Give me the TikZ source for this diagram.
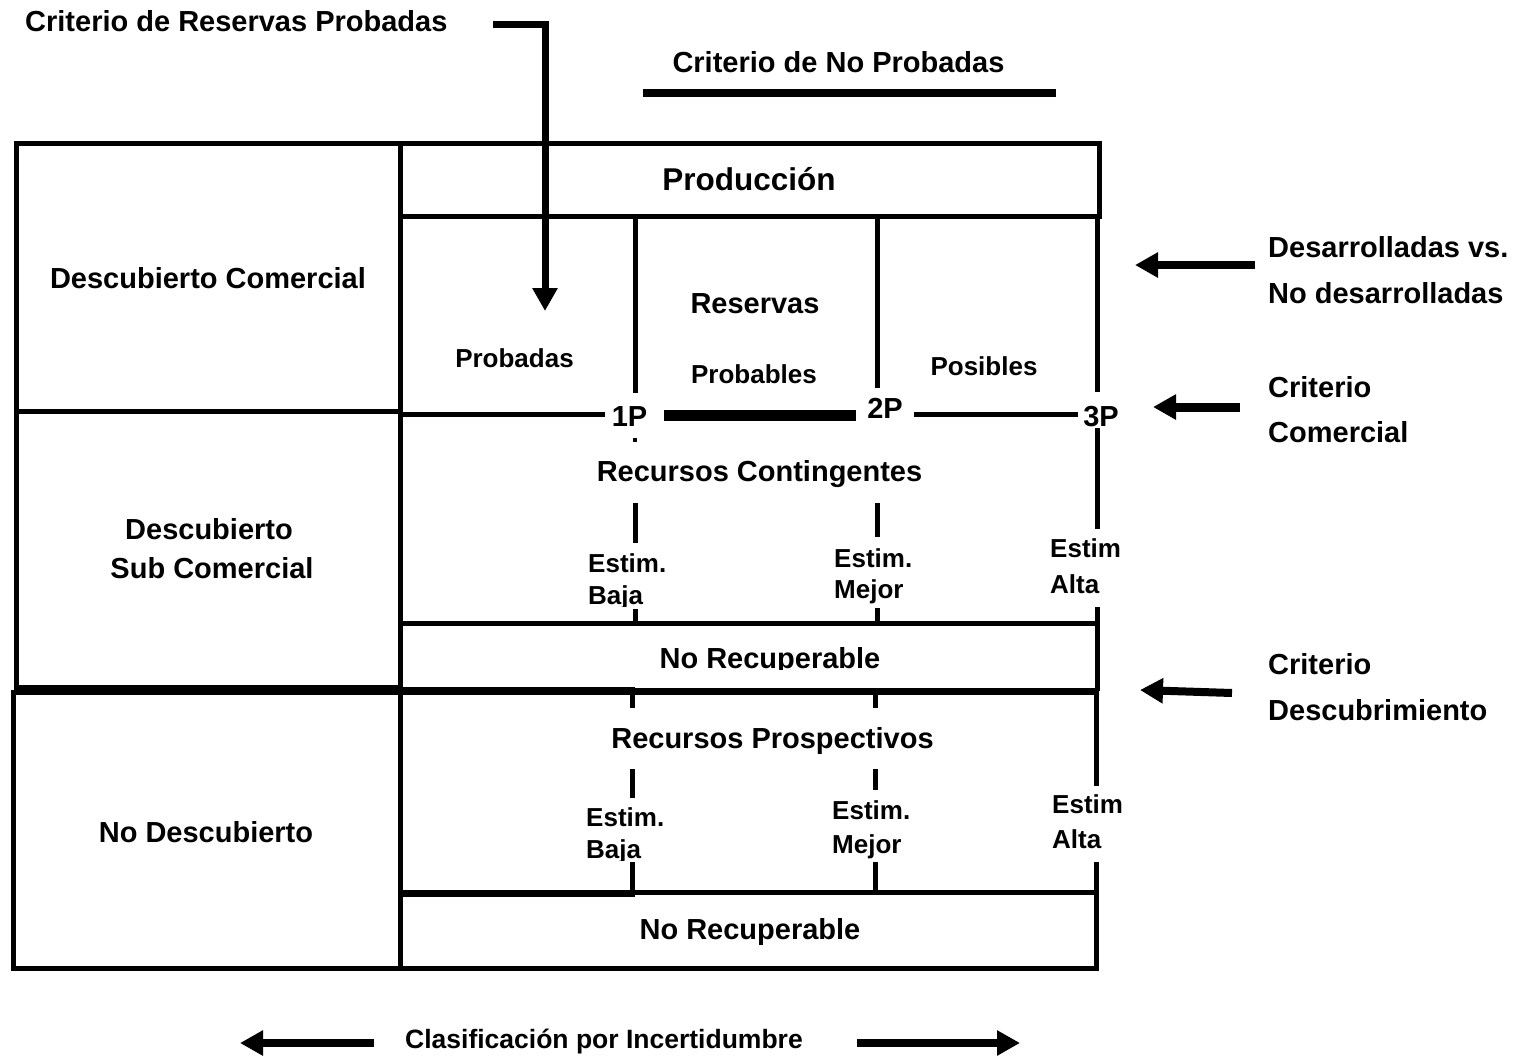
\documentclass[tikz,border=0pt]{standalone}
\usepackage{fontspec}
\setmainfont{Liberation Sans}
\usetikzlibrary{arrows.meta}
\begin{document}
\begin{tikzpicture}[x=1pt,y=-1pt,
  ln/.style={line width=5pt},
  lnthick/.style={line width=7pt},
  tA/.style={font=\fontsize{29}{35}\selectfont\bfseries, inner sep=0pt},
  tB/.style={font=\fontsize{26}{31}\selectfont\bfseries, inner sep=0pt},
  tC/.style={font=\fontsize{31.5}{38}\selectfont\bfseries, inner sep=0pt},
  tD/.style={font=\fontsize{26.5}{32}\selectfont\bfseries, inner sep=0pt},
  bigarrow/.style={line width=8pt, -{Triangle[length=23pt,width=24pt]}},
]
\path[use as bounding box, fill=white] (0,0) rectangle (1515,1055);

% ---------- left column ----------
\draw[ln] (16,143) rectangle (400,687);
\draw[ln] (16,411) -- (400,411);
\draw[ln] (13,692) rectangle (400,968);

% ---------- right block ----------
\draw[ln] (400,143) rectangle (1099,216);
\draw[ln] (400,216) -- (400,968);
% reserve dividers
\draw[ln] (635,216) -- (635,393);
\draw[ln] (877,216) -- (877,388);
\draw[ln] (1097,216) -- (1097,392);
% 1P / 2P / 3P line
\draw[ln] (400,414) -- (605,414);
\draw[line width=11pt] (664,415.5) -- (856,415.5);
\draw[ln] (914,414) -- (1078,414);
\draw[line width=4pt] (635,438) -- (635,442);
% contingent segments
\draw[ln] (635,503) -- (635,543);
\draw[ln] (635,609) -- (635,623);
\draw[ln] (877,503) -- (877,537);
\draw[ln] (877,608) -- (877,623);
\draw[ln] (1097,428) -- (1097,529);
\draw[ln] (1097,607) -- (1097,691);
\draw[ln] (400,623) -- (1097,623);
% discovery line
\draw[lnthick] (400,691) -- (1097,691);
\draw[line width=8pt] (400,691) -- (635,691);
% prospective segments
\draw[ln] (632,691) -- (632,708);
\draw[ln] (632,769) -- (632,798);
\draw[ln] (632,862) -- (632,892);
\draw[ln] (875,691) -- (875,708);
\draw[ln] (875,769) -- (875,790);
\draw[ln] (875,862) -- (875,892);
\draw[ln] (1096,691) -- (1096,786);
\draw[ln] (1096,862) -- (1096,968) -- (400,968);
\draw[ln] (400,892) -- (1096,892);
\draw[lnthick] (400,893) -- (635,893);

% ---------- texts: left ----------
\node[tA, anchor=base] (dc) at (208,288) {Descubierto Comercial};
\node[tA, anchor=base] (dsc1) at (209,539) {Descubierto};
\node[tA, anchor=base] (dsc2) at (212,578) {Sub Comercial};
\node[tA, anchor=base] (nd) at (206,842) {No Descubierto};

% ---------- texts: reserves ----------
\node[tC, anchor=base] (prod) at (749,190) {Producción};
\node[tA, anchor=base] (res) at (755,313) {Reservas};
\node[tB, anchor=base] (proba) at (514.5,367) {Probadas};
\node[tB, anchor=base] (probl) at (754,383) {Probables};
\node[tB, anchor=base] (posi) at (984,375) {Posibles};
\node[tA, anchor=base] (p1) at (629.5,426) {1P};
\node[tA, anchor=base] (p2) at (885,418) {2P};
\node[tA, anchor=base] (p3) at (1101,426) {3P};

% ---------- texts: contingent ----------
\node[tA, anchor=base] (rc) at (759.5,481) {Recursos Contingentes};
\node[tB, anchor=base west] (ce1) at (588,572) {Estim.};
\begin{scope}
  \clip (560,575) rectangle (720,606);
  \node[tB, anchor=base west] (cb1) at (588,604) {Baja};
\end{scope}
\node[tB, anchor=base west] (ce2) at (834,567) {Estim.};
\node[tB, anchor=base west] (cm2) at (834,598) {Mejor};
\node[tB, anchor=base west] (ce3) at (1050,557) {Estim};
\node[tB, anchor=base west] (ca3) at (1050,593) {Alta};
\begin{scope}
  \clip (600,630) rectangle (950,669);
  \node[tA, anchor=base] (nr1) at (770,668) {No Recuperable};
\end{scope}

% ---------- texts: prospective ----------
\node[tA, anchor=base] (rpro) at (772.5,748) {Recursos Prospectivos};
\node[tB, anchor=base west] (pe1) at (586,826) {Estim.};
\begin{scope}
  \clip (560,830) rectangle (720,860);
  \node[tB, anchor=base west] (pb1) at (586,858) {Baja};
\end{scope}
\node[tB, anchor=base west] (pe2) at (832,819) {Estim.};
\node[tB, anchor=base west] (pm2) at (832,853) {Mejor};
\node[tB, anchor=base west] (pe3) at (1052,813) {Estim};
\node[tB, anchor=base west] (pa3) at (1052,848) {Alta};
\node[tA, anchor=base] (nr2) at (750,939) {No Recuperable};

% ---------- top criteria ----------
\node[tA, anchor=base west] (crp) at (25,31) {Criterio de Reservas Probadas};
\coordinate (crpA) at (493,24);
\coordinate (crpB) at (545,24);
\coordinate (crpC) at (545,311);
\draw[line width=7pt, -{Triangle[length=23pt,width=24pt]}] (crpA) -- (crpB) -- (crpC);
\node[tA, anchor=base] (cnp) at (838.5,72) {Criterio de No Probadas};
\coordinate (cnpA) at (643,93);
\coordinate (cnpB) at (1056,93);
\draw[line width=8pt] (cnpA) -- (cnpB);

% ---------- right criteria ----------
\node[tA, anchor=base west] (dv1) at (1268,257) {Desarrolladas vs.};
\node[tA, anchor=base west] (dv2) at (1268,303) {No desarrolladas};
\coordinate (dvA) at (1255,265);
\coordinate (dvB) at (1135,265);
\draw[bigarrow] (dvA) -- (dvB);

\node[tA, anchor=base west] (cc1) at (1268,397) {Criterio};
\node[tA, anchor=base west] (cc2) at (1268,442) {Comercial};
\coordinate (ccA) at (1240,407);
\coordinate (ccB) at (1153,407);
\draw[bigarrow, line width=9pt] (ccA) -- (ccB);

\node[tA, anchor=base west] (cd1) at (1268,674) {Criterio};
\node[tA, anchor=base west] (cd2) at (1268,720) {Descubrimiento};
\coordinate (cdA) at (1232,693);
\coordinate (cdB) at (1140,690);
\draw[bigarrow] (cdA) -- (cdB);

% ---------- bottom ----------
\node[tD, anchor=base] (cpi) at (604,1048) {Clasificación por Incertidumbre};
\coordinate (cpL0) at (374,1043);
\coordinate (cpL1) at (240,1043);
\coordinate (cpR0) at (857,1043);
\coordinate (cpR1) at (1020,1043);
\draw[bigarrow] (cpL0) -- (cpL1);
\draw[bigarrow] (cpR0) -- (cpR1);
\end{tikzpicture}
\end{document}
